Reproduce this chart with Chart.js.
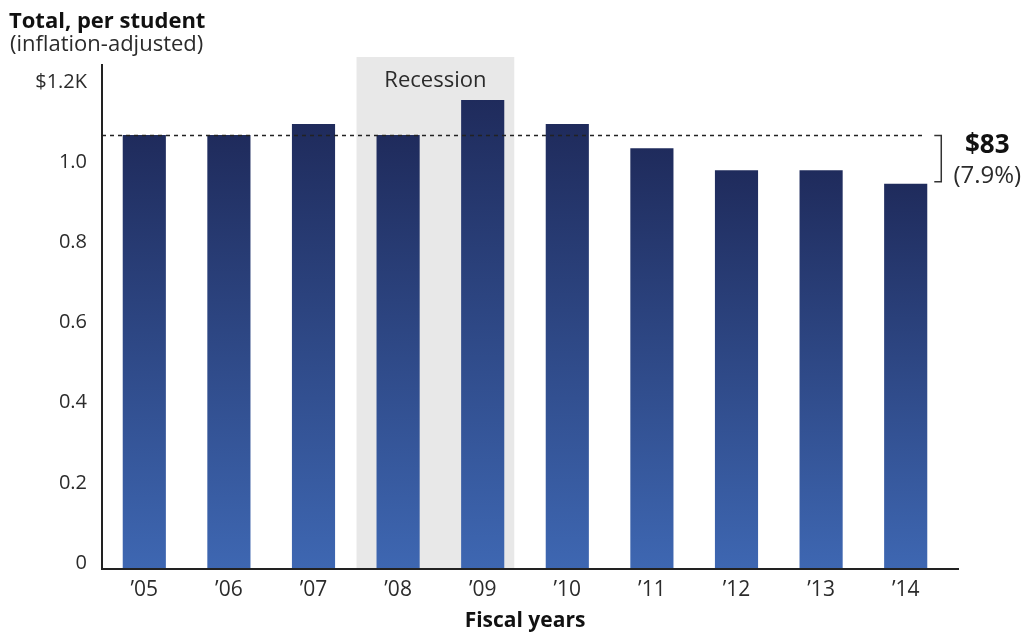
<!DOCTYPE html>
<html>
<head>
<meta charset="utf-8">
<title>Total per student spending</title>
<script src="https://cdn.jsdelivr.net/npm/chart.js@4"></script>
<style>
  html, body { margin: 0; padding: 0; background: #ffffff; }
  #wrap { width: 1029px; height: 637px; position: relative; }
</style>
</head>
<body>
<div id="wrap"><canvas id="chart"></canvas></div>
<script>
// Fiscal years shown on the x axis
const years = ['\u201905', '\u201906', '\u201907', '\u201908', '\u201909', '\u201910', '\u201911', '\u201912', '\u201913', '\u201914'];
// Total spending per student, inflation-adjusted, in thousands of dollars
const spending = [1.083, 1.083, 1.110, 1.083, 1.170, 1.110, 1.050, 0.995, 0.995, 0.961];
// Years that fall inside the recession band
const recessionYears = ['\u201908', '\u201909'];
// Value-axis tick values and their labels
const yTickValues = [0, 0.2, 0.4, 0.6, 0.8, 1.0, 1.2];
const yTickLabels = ['0', '0.2', '0.4', '0.6', '0.8', '1.0', '$1.2K'];
// Change from the first year to the last year
const changeLabel = '$83';
const changePctLabel = '(7.9%)';

const FONT = '"Open Sans", "Noto Sans", sans-serif';

function barGradient(context) {
  const chart = context.chart;
  if (!chart.chartArea || context.type !== 'data') return '#2e4a88';
  const ys = chart.scales.y;
  const top = ys.getPixelForValue(context.raw);
  const base = ys.getPixelForValue(0);
  const g = chart.ctx.createLinearGradient(0, top, 0, base);
  g.addColorStop(0, '#1f2b5c');
  g.addColorStop(1, '#3e67b2');
  return g;
}

const decorations = {
  id: 'decorations',
  beforeDatasetsDraw(chart) {
    const { ctx, scales } = chart;
    const meta = chart.getDatasetMeta(0);
    const first = meta.data[years.indexOf(recessionYears[0])];
    const last = meta.data[years.indexOf(recessionYears[recessionYears.length - 1])];
    const x0 = first.x - first.width / 2 - 20;
    const x1 = last.x + last.width / 2 + 10;
    const top = scales.y.getPixelForValue(yTickValues[yTickValues.length - 1]) - 31;
    const bottom = scales.y.getPixelForValue(0);
    ctx.save();
    ctx.fillStyle = '#e8e8e8';
    ctx.fillRect(x0, top, x1 - x0, bottom - top);
    ctx.fillStyle = '#2b2b2b';
    ctx.font = '22px ' + FONT;
    ctx.textAlign = 'center';
    ctx.textBaseline = 'alphabetic';
    ctx.fillText('Recession', (x0 + x1) / 2, top + 30);
    ctx.restore();
  },
  afterDatasetsDraw(chart) {
    const { ctx, chartArea, scales } = chart;
    const meta = chart.getDatasetMeta(0);
    const lastBar = meta.data[meta.data.length - 1];
    const refY = Math.round(scales.y.getPixelForValue(spending[0])) + 0.5;
    const endY = scales.y.getPixelForValue(spending[spending.length - 1]) - 2;
    const dashEnd = lastBar.x + lastBar.width / 2 - 3;
    ctx.save();
    // reference line at the first year's level
    ctx.strokeStyle = '#222222';
    ctx.lineWidth = 1.5;
    ctx.setLineDash([4, 4]);
    ctx.beginPath();
    ctx.moveTo(chartArea.left, refY);
    ctx.lineTo(dashEnd, refY);
    ctx.stroke();
    ctx.setLineDash([]);
    // bracket showing the change
    const bx = lastBar.x + lastBar.width / 2 + 14;
    ctx.strokeStyle = '#333333';
    ctx.lineWidth = 1.5;
    ctx.beginPath();
    ctx.moveTo(bx - 7, refY);
    ctx.lineTo(bx, refY);
    ctx.lineTo(bx, endY);
    ctx.lineTo(bx - 7, endY);
    ctx.stroke();
    ctx.fillStyle = '#111111';
    ctx.textAlign = 'center';
    ctx.textBaseline = 'alphabetic';
    ctx.font = 'bold 26px ' + FONT;
    ctx.fillText(changeLabel, bx + 46, refY + 17);
    ctx.fillStyle = '#2b2b2b';
    ctx.font = '24px ' + FONT;
    ctx.fillText(changePctLabel, bx + 46, endY + 1);
    // axis lines
    ctx.strokeStyle = '#222222';
    ctx.lineWidth = 2;
    ctx.beginPath();
    ctx.moveTo(chartArea.left, chartArea.top - 24);
    ctx.lineTo(chartArea.left, chartArea.bottom);
    ctx.lineTo(chartArea.right + 11, chartArea.bottom);
    ctx.stroke();
    ctx.restore();
  },
  afterDraw(chart) {
    const { ctx } = chart;
    ctx.save();
    ctx.textAlign = 'left';
    ctx.textBaseline = 'alphabetic';
    ctx.fillStyle = '#111111';
    ctx.font = 'bold 22px ' + FONT;
    ctx.fillText('Total, per student', 9, 28);
    ctx.fillStyle = '#2b2b2b';
    ctx.font = '22px ' + FONT;
    ctx.fillText('(inflation-adjusted)', 10, 51);
    ctx.restore();
  }
};

new Chart(document.getElementById('chart'), {
  type: 'bar',
  data: {
    labels: years,
    datasets: [{
      label: 'Total, per student',
      data: spending,
      backgroundColor: barGradient,
      borderWidth: 0,
      barPercentage: 0.51,
      categoryPercentage: 1.0
    }]
  },
  options: {
    responsive: true,
    maintainAspectRatio: false,
    animation: false,
    layout: { padding: { top: 88, right: 81, bottom: 0, left: 0 } },
    plugins: {
      legend: { display: false },
      tooltip: { enabled: false }
    },
    scales: {
      x: {
        grid: { display: false, drawTicks: false },
        border: { display: false },
        ticks: {
          color: '#2b2b2b',
          font: { family: FONT, size: 21, lineHeight: 1.2 },
          padding: 8,
          maxRotation: 0
        },
        title: {
          display: true,
          text: 'Fiscal years',
          color: '#111111',
          font: { family: FONT, size: 21, weight: 'bold', lineHeight: 1.2 },
          padding: { top: 0, bottom: 3 }
        },
        afterFit(scale) { scale.height = 68; }
      },
      y: {
        min: 0,
        max: yTickValues[yTickValues.length - 1],
        grid: { display: false, drawTicks: false },
        border: { display: false },
        afterBuildTicks(scale) {
          scale.ticks = yTickValues.map(v => ({ value: v }));
        },
        ticks: {
          color: '#2b2b2b',
          font: { family: FONT, size: 20, lineHeight: 1.2 },
          padding: 15,
          labelOffset: -6,
          callback(value) {
            const i = yTickValues.findIndex(v => Math.abs(v - value) < 1e-6);
            return i >= 0 ? yTickLabels[i] : '';
          }
        },
        afterFit(scale) { scale.width = 102; }
      }
    }
  },
  plugins: [decorations]
});
</script>
</body>
</html>
